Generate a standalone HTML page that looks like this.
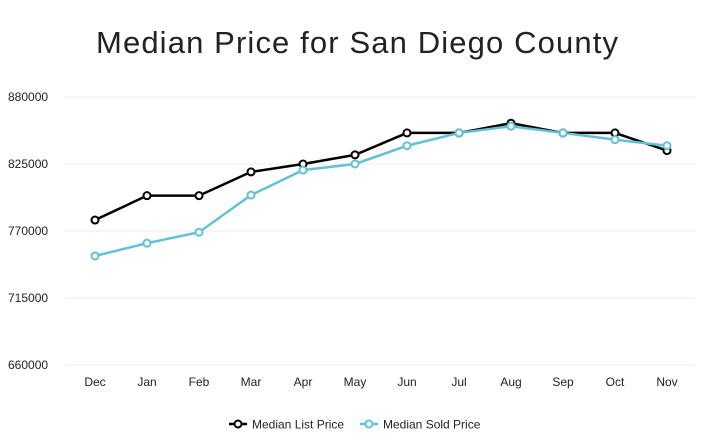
<!DOCTYPE html>
<html><head><meta charset="utf-8"><style>
body{margin:0;background:#fff;}
svg{display:block;font-family:"Liberation Sans",sans-serif;}
</style></head><body>
<svg id="chart" width="717" height="442">
<text x="357" y="53" text-anchor="middle" font-size="31" fill="#222" textLength="522" lengthAdjust="spacing">Median Price for San Diego County</text>
<g id="grid"></g><g id="xaxis"></g><g id="series"></g>
<g>
<g><line x1="229" y1="424" x2="247" y2="424" stroke="#000" stroke-width="2.5"/><circle cx="238" cy="424" r="3.5" fill="#fff" stroke="#000" stroke-width="2"/><text x="252" y="428.5" font-size="12" fill="#222">Median List Price</text></g>
<g><line x1="360" y1="424" x2="378" y2="424" stroke="#62c1d5" stroke-width="2.5"/><circle cx="369" cy="424" r="3.5" fill="#fff" stroke="#62c1d5" stroke-width="2"/><text x="383" y="428.5" font-size="12" fill="#222">Median Sold Price</text></g>
</g>
</svg>
<script>
const categories=["Dec","Jan","Feb","Mar","Apr","May","Jun","Jul","Aug","Sep","Oct","Nov"];
const listPrice=[779000,799000,799000,818500,825000,832500,850500,850500,858500,850500,850500,836000];
const soldPrice=[749500,760000,769000,799500,820000,825000,840000,850500,856000,850500,845000,840000];
const yTicks=[660000,715000,770000,825000,880000];
const NS="http://www.w3.org/2000/svg";
const svg=document.getElementById('chart');
function x(i){return 95+i*52;}
function y(v){return 365-(v-660000)*(268/220000);}
function mk(tag,attrs,parent){const e=document.createElementNS(NS,tag);for(const k in attrs)e.setAttribute(k,attrs[k]);parent.appendChild(e);return e;}
const grid=document.getElementById('grid');
yTicks.forEach(t=>{
 const l=mk('line',{x1:65,x2:695,y1:y(t),y2:y(t),stroke:'#ececec','stroke-width':1},grid);
 
 
 const tx=mk('text',{x:8,y:y(t)+4,'font-size':12,fill:'#222'},grid);
 tx.textContent=t;
 
 
});
const xa=document.getElementById('xaxis');
categories.forEach((c,i)=>{
 const tx=mk('text',{x:x(i),y:386,'text-anchor':'middle','font-size':12,fill:'#222'},xa);
 tx.textContent=c;
 
 
});
const ser=document.getElementById('series');
function draw(vals,color,name){
 const p=mk('polyline',{points:vals.map((v,i)=>x(i)+','+y(v)).join(' '),fill:'none',stroke:color,'stroke-width':2.5},ser);
 
 
 vals.forEach((v,i)=>{
  const c=mk('circle',{cx:x(i),cy:y(v),r:3.5,fill:'#fff',stroke:color,'stroke-width':2},ser);
  
  
 });
}
draw(listPrice,'#000','list-price');
draw(soldPrice,'#62c1d5','sold-price');
</script>
</body></html>
